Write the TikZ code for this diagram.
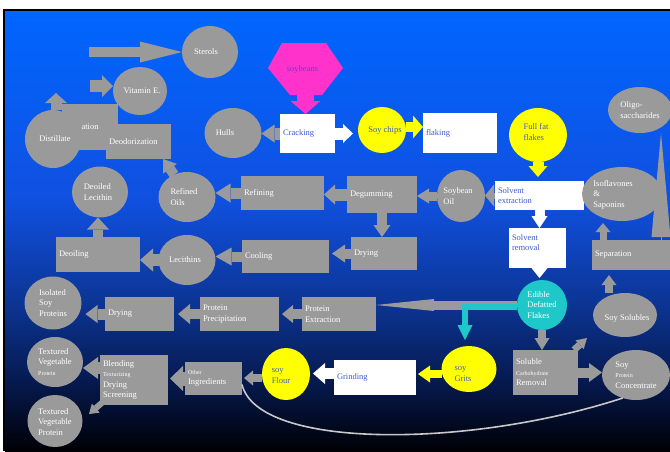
\documentclass[tikz,border=0pt]{standalone}
\usepackage{fontspec}
\setmainfont{Liberation Serif}
\usetikzlibrary{shapes.geometric,arrows.meta}
\definecolor{gry}{HTML}{9A9A9A}
\definecolor{tblue}{HTML}{3D5AD0}
\definecolor{ytext}{HTML}{4060B8}
\definecolor{yel}{HTML}{FFFF00}
\definecolor{tealc}{HTML}{1FC8C8}
\definecolor{pinkc}{HTML}{FF33CC}
\definecolor{purp}{HTML}{6A3CD8}
\definecolor{curvec}{HTML}{C8C8C8}
\definecolor{bgA}{HTML}{0066FF}
\definecolor{bgB}{HTML}{1050E0}
\definecolor{bgC}{HTML}{0C3595}
\definecolor{bgD}{HTML}{061A50}
\definecolor{bgE}{HTML}{000005}
\pgfdeclareverticalshading{slidebg}{100bp}{color(0bp)=(bgE); color(25bp)=(bgE); color(33bp)=(bgD); color(42bp)=(bgC); color(53.5bp)=(bgB); color(75bp)=(bgA); color(100bp)=(bgA)}
\newcommand\zt[3]{\raisebox{\dimexpr-2.8pt-#2\relax}[0pt][0pt]{\makebox[0pt]{\hspace*{#1}\hspace*{#1}\begin{tabular}[c]{@{}l@{}}#3\end{tabular}}}}
\newcommand\zc[1]{\zt{0pt}{0pt}{#1}}
\newcommand\sm{\fontsize{6}{7}\selectfont}
\tikzset{
  base/.style={font=\fontsize{8.5}{10.5}\selectfont, inner sep=0pt, outer sep=0pt},
  gbox/.style={base, rectangle, fill=gry, text=white, anchor=north west, align=left, inner xsep=3pt},
  wbox/.style={gbox, fill=white, text=tblue},
  gell/.style={base, ellipse, fill=gry, text=white},
  yell/.style={gell, fill=yel, text=ytext},
  tell/.style={gell, fill=tealc, text=white},
  blk/.style n args={4}{draw=#1, line width=#2, -{Triangle[width=#3, length=#4, line width=0pt]}},
  garr/.style n args={3}{blk={gry}{#1}{#2}{#3}},
  warr/.style n args={3}{blk={white}{#1}{#2}{#3}},
  yarr/.style n args={3}{blk={yel}{#1}{#2}{#3}},
  tarr/.style n args={3}{blk={tealc}{#1}{#2}{#3}},
  parr/.style n args={3}{blk={pinkc}{#1}{#2}{#3}},
  link/.style={draw=curvec, line width=1.6pt}
}
\begin{document}
\begin{tikzpicture}[x=1pt,y=-1pt]
\useasboundingbox (0,0) rectangle (670,451);
\fill[white] (0,0) rectangle (670,451);
\fill[black] (3,9) rectangle (670,451);
\shade[shading=slidebg] (5,11) rectangle (670,451);

% soybeans hexagon
\fill[pinkc] (282,43) -- (326,43) -- (343,68) -- (322,95) -- (290,95) -- (268,68) -- cycle;
\node[base, text=purp, minimum width=75pt, minimum height=50pt] (soyb) at (305.5,68) {\zt{-3pt}{1pt}{soybeans}};

% grey rectangles
\node[gbox, align=center, text width=50pt, minimum height=46pt] (ation) at (62,104) {ation};
\node[gell, minimum width=56pt, minimum height=58pt] (dist) at (53,139) {\zt{2pt}{0pt}{Distillate}};
\node[gbox, text width=59pt, minimum height=35pt] (deodor) at (106,124) {Deodorization};
\node[gbox, text width=77pt, minimum height=34pt] (refining) at (241,176) {Refining};
\node[gbox, text width=64pt, minimum height=37pt] (degum) at (347,176) {Degumming};
\node[gbox, text width=60pt, minimum height=33pt] (dry1) at (351,237) {Drying};
\node[gbox, text width=81pt, minimum height=33pt] (cool) at (242,240) {Cooling};
\node[gbox, text width=78pt, minimum height=35pt] (deoil) at (56,237) {Deoiling};
\node[gbox, text width=63pt, minimum height=34pt] (dry2) at (105,297) {Drying};
\node[gbox, text width=73pt, minimum height=34pt] (pprec) at (200,297) {Protein\\Precipitation};
\node[gbox, text width=68pt, minimum height=34pt] (pext) at (302,297) {Protein\\Extraction};
\node[gbox, text width=51pt, minimum height=33pt] (oi) at (185,362) {{\sm Other}\\Ingredients};
\node[gbox, text width=62pt, minimum height=50pt] (blend) at (100,355) {Blending\\{\sm Texturizing}\\Drying\\Screening};
\node[gbox, text width=59pt, minimum height=45pt] (scr) at (513,350) {Soluble\\{\sm Carbohydrate}\\Removal};
\node[gbox, text width=72pt, minimum height=30pt] (sep) at (592,240) {Separation};

% white boxes
\node[wbox, text width=49pt, minimum height=39pt] (crack) at (280,114) {Cracking};
\node[wbox, text width=68pt, minimum height=40pt] (flaking) at (423,113) {flaking};
\node[wbox, text width=83pt, minimum height=29pt] (solvext) at (495,181) {Solvent\\extraction};
\node[wbox, text width=51pt, minimum height=40pt] (solvrem) at (509,228) {Solvent\\removal\\\mbox{}};
\node[wbox, text width=76pt, minimum height=35pt] (grind) at (334,360) {Grinding};

% ellipses
\node[gell, minimum width=56pt, minimum height=52pt] (sterols) at (210,52) {\zt{-4pt}{0pt}{Sterols}};
\node[gell, minimum width=54pt, minimum height=48pt] (vite) at (140,91) {\zt{2pt}{0pt}{Vitamin E.}};
\node[gell, minimum width=57pt, minimum height=50pt] (hulls) at (233,133) {\zt{-8pt}{0pt}{Hulls}};
\node[yell, minimum width=48pt, minimum height=46pt] (chips) at (382,130) {\zt{3pt}{0pt}{Soy chips}};
\node[yell, text=tblue, minimum width=58pt, minimum height=54pt] (fff) at (538,135) {\zt{-2pt}{-3pt}{Full fat\\flakes}};
\node[gell, minimum width=48pt, minimum height=52pt] (soyoil) at (461,196) {\zt{-3pt}{0pt}{Soybean\\Oil}};
\node[gell, minimum width=57pt, minimum height=50pt] (roils) at (187,197) {\zt{-3pt}{0pt}{Refined\\Oils}};
\node[gell, minimum width=56pt, minimum height=51pt] (dlec) at (100,192) {\zt{-2pt}{0pt}{Deoiled\\Lecithin}};
\node[gell, minimum width=57pt, minimum height=50pt] (lec) at (187,260) {\zt{-2pt}{0pt}{Lecithins}};
\node[gell, minimum width=57pt, minimum height=53pt] (iso) at (53,303) {\zc{Isolated\\Soy\\Proteins}};
\node[gell, minimum width=56pt, minimum height=50pt] (tvp1) at (55,362) {\zc{Textured\\Vegetable\\{\sm Protein}}};
\node[gell, minimum width=55pt, minimum height=52pt] (tvp2) at (55,421) {\zt{0pt}{1pt}{Textured\\Vegetable\\Protein}};
\node[tell, minimum width=50pt, minimum height=50pt] (edible) at (542,305) {\zc{Edible\\Defatted\\Flakes}};
\node[yell, minimum width=55pt, minimum height=46pt] (grits) at (469,369) {\zt{-6pt}{4pt}{soy\\Grits}};
\node[yell, minimum width=48pt, minimum height=52pt] (flour) at (286,374) {\zt{-5pt}{1pt}{soy\\Flour}};
\node[gell, minimum width=64pt, minimum height=44pt] (solub) at (625,315) {\zt{2pt}{3pt}{Soy Solubles}};
\node[gell, minimum width=68pt, minimum height=50pt] (spc) at (636,375) {\zc{Soy\\{\sm Protein}\\Concentrate}};
\node[gell, minimum width=80pt, minimum height=54pt] (isofl) at (622,194) {\zt{-9pt}{0pt}{Isoflavones\\\&\\Saponins}};
\node[gell, minimum width=64pt, minimum height=46pt] (oligo) at (640,110) {\zc{Oligo-\\saccharides}};

% free start points
\coordinate (sterA) at (89,52);
\coordinate (vitA) at (90,86);

% block arrows
\draw[garr={10pt}{21pt}{42pt}] (sterA) -- (sterA -| sterols.west);
\draw[garr={12pt}{22pt}{11pt}] (vitA) -- (vitA -| vite.west);
\draw[garr={11pt}{22pt}{10pt}] ([xshift=3pt]dist.north) -- ++(0,-17);
\draw[garr={12pt}{18pt}{13pt}] (crack.west) -- (crack.west -| hulls.east);
\draw[warr={12pt}{19pt}{10pt}, shorten >=5pt] (crack.east) -- (crack.east -| chips.west);
\draw[yarr={10pt}{23pt}{10pt}] ([yshift=3pt]chips.east) -- ([yshift=3pt]chips.east -| flaking.west);
\draw[parr={17pt}{30pt}{13pt}] (soyb.south) -- (soyb.south |- crack.north);
\draw[yarr={11pt}{19pt}{11pt}, shorten >=4pt] (fff.south) -- (fff.south |- solvext.north);
\draw[warr={10pt}{16pt}{12pt}] ([xshift=2pt]solvrem.north |- solvext.south) -- ([xshift=2pt]solvrem.north);
\draw[warr={10pt}{16pt}{10pt}, shorten >=2pt] ([xshift=2pt]solvrem.south) -- ([xshift=2pt]solvrem.south |- edible.north);
\draw[garr={6pt}{22pt}{9pt}] (solvext.west) -- (solvext.west -| soyoil.east);
\draw[garr={9pt}{15pt}{12pt}] (soyoil.west) -- (soyoil.west -| degum.east);
\draw[garr={12pt}{20pt}{11pt}] (degum.west) -- (degum.west -| refining.east);
\draw[garr={11pt}{19pt}{15pt}] (refining.west) -- (refining.west -| roils.east);
\draw[garr={10pt}{17pt}{12pt}] (roils.120) -- ([xshift=-8pt]deodor.south east);
\draw[garr={10pt}{17pt}{12pt}] (degum.south) -- (degum.south |- dry1.north);
\draw[garr={10pt}{18pt}{13pt}, shorten >=3pt] (dry1.west) -- (dry1.west -| cool.east);
\draw[garr={10pt}{18pt}{16pt}] (cool.west) -- (cool.west -| lec.east);
\draw[garr={12pt}{23pt}{13pt}] (lec.west) -- (lec.west -| deoil.east);
\draw[garr={10pt}{22pt}{12pt}] (deoil.north) -- (deoil.north |- dlec.south);
\draw[garr={9pt}{12pt}{58pt}] (edible.west) -- (edible.west -| pext.east);
\draw[tarr={6pt}{15pt}{15pt}, shorten >=6pt] ([yshift=-2pt]edible.west) -| ([xshift=-4pt]grits.north);
\draw[garr={8pt}{15pt}{12pt}] (edible.south) -- (edible.south |- scr.north);
\draw[garr={10pt}{19pt}{13pt}] (scr.east) -- (scr.east -| spc.west);
\draw[garr={7pt}{12pt}{10pt}] ([xshift=-4pt]scr.north east) -- ++(13,-12);
\draw[garr={8pt}{15pt}{10pt}, shorten >=5pt] ([xshift=-16pt]solub.north) -- ([xshift=-16pt]solub.north |- sep.south);
\draw[garr={7pt}{15pt}{9pt}] ([xshift=11pt]sep.north west) -- ++(0,-17);
\draw[garr={0.5pt}{19pt}{104pt}] ([xshift=-9pt]sep.north east) -- ([xshift=-9pt]sep.north east |- oligo.south);
\draw[yarr={8pt}{17pt}{12pt}, shorten >=2pt] ([yshift=-5pt]grits.west) -- ([yshift=-5pt]grits.west -| grind.east);
\draw[warr={11pt}{21pt}{12pt}, shorten >=3pt] ([yshift=4pt]grind.west) -- ([yshift=4pt]grind.west -| flour.east);
\draw[garr={8pt}{15pt}{9pt}, shorten >=2pt] ([yshift=-4pt]flour.west) -- ([yshift=-4pt]flour.west -| oi.east);
\draw[garr={14pt}{25pt}{13pt}, shorten >=2pt] (oi.west) -- (oi.west -| blend.east);
\draw[garr={12pt}{22pt}{15pt}] ([yshift=12pt]blend.west) -- ([yshift=12pt]blend.west -| tvp1.east);
\draw[garr={6pt}{12pt}{9pt}] ([xshift=4pt,yshift=4pt]blend.south west) -- ++(-15,13);
\draw[garr={11pt}{18pt}{12pt}, shorten >=4pt] (dry2.west) -- (dry2.west -| iso.east);
\draw[garr={10pt}{20pt}{12pt}, shorten >=4pt] (pprec.west) -- (pprec.west -| dry2.east);
\draw[garr={10pt}{18pt}{11pt}, shorten >=3pt] (pext.west) -- (pext.west -| pprec.east);

% curved link
\draw[link] ([yshift=-6pt]oi.east) .. controls (258,450) and (470,448) .. (spc.240);
\end{tikzpicture}
\end{document}
